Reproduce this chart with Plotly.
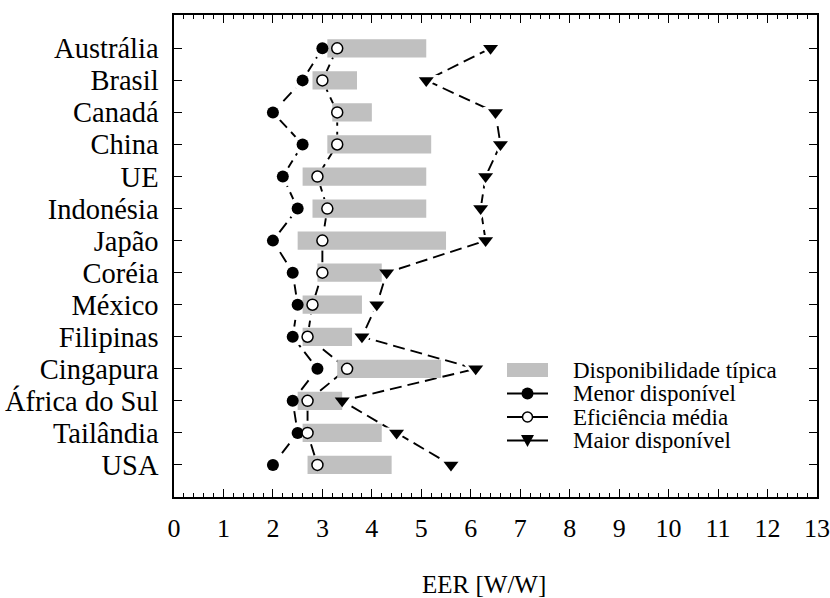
import plotly.graph_objects as go

countries = ["Austrália", "Brasil", "Canadá", "China", "UE", "Indonésia", "Japão",
             "Coréia", "México", "Filipinas", "Cingapura", "África do Sul", "Tailândia", "USA"]
tipica_min = [3.1, 2.8, 3.2, 3.1, 2.6, 2.8, 2.5, 2.9, 2.6, 2.6, 3.3, 2.5, 2.6, 2.7]
tipica_max = [5.1, 3.7, 4.0, 5.2, 5.1, 5.1, 5.5, 4.2, 3.8, 3.6, 5.4, 3.4, 4.2, 4.4]
menor = [3.0, 2.6, 2.0, 2.6, 2.2, 2.5, 2.0, 2.4, 2.5, 2.4, 2.9, 2.4, 2.5, 2.0]
media = [3.3, 3.0, 3.3, 3.3, 2.9, 3.1, 3.0, 3.0, 2.8, 2.7, 3.5, 2.7, 2.7, 2.9]
maior = [6.4, 5.1, 6.5, 6.6, 6.3, 6.2, 6.3, 4.3, 4.1, 3.8, 6.1, 3.4, 4.5, 5.6]
xticks = list(range(0, 14))

legend_labels = ["Disponibilidade típica", "Menor disponível", "Eficiência média", "Maior disponível"]

FONT = "Liberation Serif"
W, H = 830, 598
L, R, T, B = 174, 13, 15, 101
PW, PH = W - L - R, H - T - B

ypos = list(range(len(countries)))
BAR_H = 0.57

fig = go.Figure()

DASH = "12px,6px"
series = [
    (menor, dict(symbol="circle", color="black", size=12, line=dict(width=0))),
    (media, dict(symbol="circle", color="white", size=11, line=dict(width=1.5, color="black"))),
    (maior, dict(symbol="triangle-down", color="black", size=13, line=dict(width=0))),
]

# connecting lines
for vals, mk in series:
    fig.add_trace(go.Scatter(x=vals, y=ypos, mode="lines",
                             line=dict(color="black", width=1.9, dash=DASH),
                             showlegend=False, hoverinfo="skip"))
# white halos to create gaps at markers
for vals, mk in series:
    fig.add_trace(go.Scatter(x=vals, y=ypos, mode="markers",
                             marker=dict(symbol=mk["symbol"], color="white",
                                         size=mk["size"] + 9, line=dict(width=0)),
                             showlegend=False, hoverinfo="skip"))
# typical range bars (filled polygons so they sit above the halos)
bx, by = [], []
for yc, a, b in zip(ypos, tipica_min, tipica_max):
    h = BAR_H / 2
    bx += [a, b, b, a, a, None]
    by += [yc - h, yc - h, yc + h, yc + h, yc - h, None]
fig.add_trace(go.Scatter(x=bx, y=by, mode="lines", fill="toself", fillcolor="#c0c0c0",
                         line=dict(width=0, color="#c0c0c0"), showlegend=False,
                         hoverinfo="skip"))
# markers
for vals, mk in series:
    fig.add_trace(go.Scatter(x=vals, y=ypos, mode="markers", marker=mk,
                             showlegend=False))

# ---- manual legend (pixel -> paper helpers) ----
def px(x):
    return (x - L) / PW

def py(y):
    return (H - B - y) / PH

shapes = []
annotations = []
rows_y = [370, 393.5, 417, 440.5]
sx0, sx1, sxm = 507, 548, 527.5
shapes.append(dict(type="rect", xref="paper", yref="paper",
                   x0=px(sx0), x1=px(sx1), y0=py(rows_y[0] + 7), y1=py(rows_y[0] - 7),
                   fillcolor="#c0c0c0", line=dict(width=0)))
for ry in rows_y[1:]:
    shapes.append(dict(type="line", xref="paper", yref="paper",
                       x0=px(sx0), x1=px(sx1), y0=py(ry), y1=py(ry),
                       line=dict(color="black", width=1.9)))
r = 6
shapes.append(dict(type="circle", xref="paper", yref="paper",
                   x0=px(sxm - r), x1=px(sxm + r), y0=py(rows_y[1] + r), y1=py(rows_y[1] - r),
                   fillcolor="black", line=dict(color="black", width=0)))
r = 5
shapes.append(dict(type="circle", xref="paper", yref="paper",
                   x0=px(sxm - r), x1=px(sxm + r), y0=py(rows_y[2] + r), y1=py(rows_y[2] - r),
                   fillcolor="white", line=dict(color="black", width=1.5)))
ty = rows_y[3]
tri = "M {},{} L {},{} L {},{} Z".format(px(sxm - 6.5), py(ty - 5.5), px(sxm + 6.5), py(ty - 5.5),
                                        px(sxm), py(ty + 6.5))
shapes.append(dict(type="path", xref="paper", yref="paper", path=tri,
                   fillcolor="black", line=dict(color="black", width=0)))
for ry, lab in zip(rows_y, legend_labels):
    annotations.append(dict(xref="paper", yref="paper", x=px(571), y=py(ry),
                            xanchor="left", yanchor="middle", text=lab, showarrow=False,
                            font=dict(family=FONT, size=23, color="black")))

annotations.append(dict(xref="paper", yref="paper", x=px(484), y=py(584),
                        xanchor="center", yanchor="middle", text="EER [W/W]", showarrow=False,
                        font=dict(family=FONT, size=25, color="black")))

fig.update_layout(
    width=W, height=H,
    margin=dict(l=L, r=R, t=T, b=B, pad=0, autoexpand=False),
    plot_bgcolor="white", paper_bgcolor="white",
    font=dict(family=FONT, color="black"),
    shapes=shapes, annotations=annotations,
    showlegend=False,
)
fig.update_xaxes(
    range=[0, 13], tickvals=xticks, ticktext=[str(v) for v in xticks],
    ticks="inside", ticklen=8, tickwidth=1, tickcolor="black",
    minor=dict(dtick=0.2, ticks="inside", ticklen=4, tickcolor="black", tickwidth=1),
    showline=True, linecolor="black", linewidth=1.5, mirror="ticks",
    showgrid=False, zeroline=False, automargin=False,
    tickfont=dict(family=FONT, size=26, color="black"),
    ticklabelstandoff=7, ticklabeloverflow="allow",
)
fig.update_yaxes(
    range=[14, -1.04], tickvals=ypos, ticktext=countries,
    ticks="inside", ticklen=8, tickwidth=1, tickcolor="black",
    showline=True, linecolor="black", linewidth=1.5, mirror="ticks",
    showgrid=False, zeroline=False, automargin=False,
    tickfont=dict(family=FONT, size=28.5, color="black"),
    ticklabelstandoff=8, ticklabeloverflow="allow",
)

fig.write_html("out.html")
